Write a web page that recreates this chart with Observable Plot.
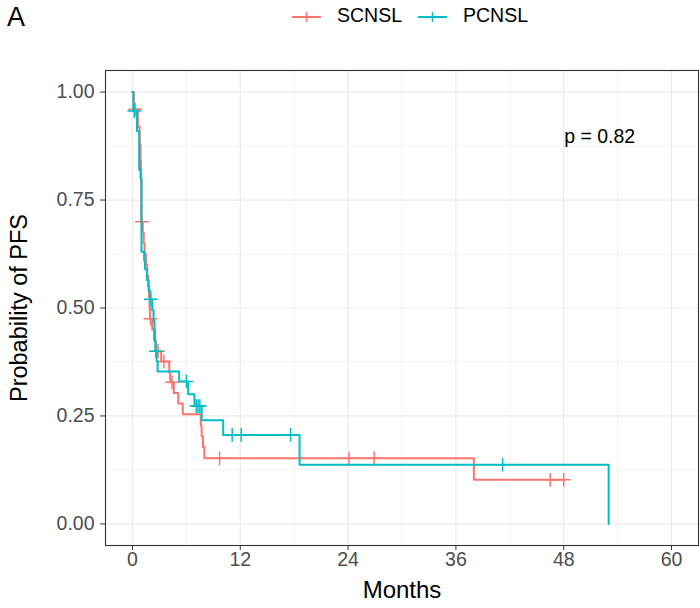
<!DOCTYPE html>
<html>
<head>
<meta charset="utf-8">
<script src="https://cdn.jsdelivr.net/npm/d3@7"></script>
<script src="https://cdn.jsdelivr.net/npm/@observablehq/plot@0.6"></script>
<style>
  body { margin: 0; background: white; }
  #wrap { position: relative; width: 700px; height: 608px; font-family: 'Liberation Sans', Arial, sans-serif; }
  #wrap svg.plot { position: absolute; left: 0; top: 0; }
  .lab { position: absolute; color: #000; white-space: nowrap; }
</style>
</head>
<body>
<div id="wrap"></div>
<script>
// ---- data ----
const groups = ["SCNSL", "PCNSL"];
const colors = ["#F8766D", "#00BFC4"];

// SCNSL Kaplan-Meier steps
const scnslTime = [0, 0.15, 0.6, 0.8, 0.9, 0.95, 1.0, 1.15, 1.25, 1.35, 1.5, 1.65, 1.75, 1.85, 1.9, 1.95, 2.2, 2.4, 2.6, 3.2, 4.1, 4.2, 4.6, 5.1, 5.6, 7.6, 7.7, 7.85, 8.0, 38.0, 48.0];
const scnslSurv = [1, 0.96, 0.92, 0.88, 0.84, 0.80, 0.70, 0.675, 0.65, 0.625, 0.60, 0.575, 0.55, 0.525, 0.50, 0.475, 0.45, 0.425, 0.40, 0.376, 0.35, 0.328, 0.303, 0.279, 0.254, 0.228, 0.203, 0.178, 0.152, 0.102, 0.102];
const scnslCensor = [0.3, 1.05, 2.0, 2.85, 3.5, 4.4, 9.7, 24.1, 26.9, 46.5, 48.0];

// PCNSL Kaplan-Meier steps
const pcnslTime = [0, 0.1, 0.5, 0.75, 0.9, 1.0, 1.3, 1.4, 1.6, 1.8, 1.95, 2.2, 2.35, 2.45, 2.5, 2.55, 2.7, 2.8, 5.2, 6.2, 6.9, 7.7, 10.1, 18.6, 53.0];
const pcnslSurv = [1, 0.956, 0.91, 0.82, 0.80, 0.63, 0.61, 0.59, 0.565, 0.54, 0.52, 0.495, 0.47, 0.45, 0.425, 0.40, 0.377, 0.353, 0.33, 0.30, 0.273, 0.24, 0.206, 0.137, 0];
const pcnslCensor = [0.2, 2.05, 2.6, 6.0, 7.1, 7.3, 7.5, 11.1, 12.1, 17.6, 41.2];

const xTicks = [0, 12, 24, 36, 48, 60];
const xMinor = [6, 18, 30, 42, 54];
const yTicks = [0, 0.25, 0.5, 0.75, 1];
const yMinor = [0.125, 0.375, 0.625, 0.875];
const pText = "p = 0.82";
const pPos = {t: 52, s: 0.896};

// ---- build ----
function steps(times, surv) { return times.map((t, i) => ({t, s: surv[i]})); }
function survAt(times, surv, t) {
  let v = surv[0];
  for (let i = 0; i < times.length; i++) if (times[i] <= t) v = surv[i];
  return v;
}
const red = steps(scnslTime, scnslSurv);
const cyan = steps(pcnslTime, pcnslSurv);
const redC = scnslCensor.map(t => ({t, s: survAt(scnslTime, scnslSurv, t)}));
const cyanC = pcnslCensor.map(t => ({t, s: survAt(pcnslTime, pcnslSurv, t)}));

const grid = "#EBEBEB";
const fs = 19.5;
const chart = Plot.plot({
  width: 700, height: 608,
  marginLeft: 105, marginRight: 2, marginTop: 70, marginBottom: 63,
  x: {domain: [-3, 63]},
  y: {domain: [-0.05, 1.05]},
  style: {fontFamily: "'Liberation Sans', Arial, sans-serif", fontSize: fs + "px", background: "white", overflow: "visible"},
  marks: [
    Plot.gridX(xMinor, {stroke: grid, strokeOpacity: 1, strokeWidth: 0.6}),
    Plot.gridY(yMinor, {stroke: grid, strokeOpacity: 1, strokeWidth: 0.6}),
    Plot.gridX(xTicks, {stroke: grid, strokeOpacity: 1, strokeWidth: 1.2}),
    Plot.gridY(yTicks, {stroke: grid, strokeOpacity: 1, strokeWidth: 1.2}),
    Plot.line(red, {x: "t", y: "s", curve: "step-after", stroke: colors[0], strokeWidth: 2}),
    Plot.dot(redC, {x: "t", y: "s", symbol: "plus", r: 4.5, stroke: colors[0], strokeWidth: 1.5}),
    Plot.line(cyan, {x: "t", y: "s", curve: "step-after", stroke: colors[1], strokeWidth: 2}),
    Plot.dot(cyanC, {x: "t", y: "s", symbol: "plus", r: 4.5, stroke: colors[1], strokeWidth: 1.5}),
    Plot.text([pText], {x: () => pPos.t, y: () => pPos.s, text: d => d, fill: "#000", fontSize: fs, textAnchor: "middle"}),
    Plot.axisX(xTicks, {tickSize: 5, tickPadding: 2, stroke: "#333", fill: "#4D4D4D", label: null, fontSize: fs}),
    Plot.axisY(yTicks, {tickSize: 5, tickPadding: 6, stroke: "#333", fill: "#4D4D4D", label: null, fontSize: fs, tickFormat: d3.format(".2f")}),
    Plot.frame({stroke: "#333", strokeWidth: 1.1})
  ]
});
chart.classList.add("plot");
const wrap = document.getElementById("wrap");
wrap.appendChild(chart);

function label(text, css) {
  const d = document.createElement("div");
  d.className = "lab";
  d.textContent = text;
  Object.assign(d.style, css);
  wrap.appendChild(d);
  return d;
}
label("A", {left: "7px", top: "2px", fontSize: "27px"});
label("Months", {left: "402px", top: "576px", fontSize: "24px", transform: "translateX(-50%)"});
label("Probability of PFS", {left: "19px", top: "308px", fontSize: "23.5px", transform: "translate(-50%,-50%) rotate(-90deg)"});

// legend
const keyX = [292, 418];
const textX = [337, 463];
groups.forEach((g, i) => {
  const ns = "http://www.w3.org/2000/svg";
  const svg = document.createElementNS(ns, "svg");
  svg.setAttribute("width", 30); svg.setAttribute("height", 20);
  svg.style.position = "absolute"; svg.style.left = keyX[i] + "px"; svg.style.top = "7px";
  svg.innerHTML = `<line x1="0" x2="29" y1="10" y2="10" stroke="${colors[i]}" stroke-width="2"/>` +
    `<line x1="14.5" x2="14.5" y1="5" y2="15" stroke="${colors[i]}" stroke-width="1.5"/>`;
  wrap.appendChild(svg);
  label(g, {left: textX[i] + "px", top: "4px", fontSize: "19.5px"});
});
</script>
</body>
</html>
